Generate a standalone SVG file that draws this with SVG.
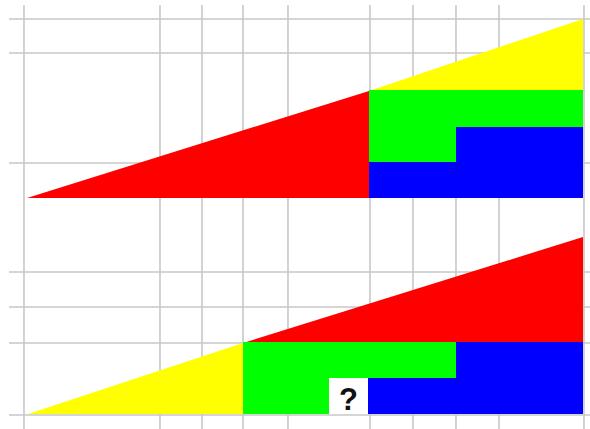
<svg xmlns="http://www.w3.org/2000/svg" width="590" height="429" viewBox="0 0 590 429">
<style>
.g{stroke:#c8c8c8;stroke-width:1.6;fill:none}
.r{fill:#ff0000}.y{fill:#ffff00}.gr{fill:#00ff00}.b{fill:#0000ff}
.q{font-family:"Liberation Sans",Arial,sans-serif;font-weight:bold;font-size:31px;fill:#111}
</style>
<rect width="590" height="429" fill="#ffffff"/>
<g id="grid" class="g">
<path d="M24 5V429M160 5V429M202 5V429M243 5V429M288 5V429M370 5V429M413 5V429M456 5V429M499 5V429M584 5V429"/>
<path d="M9 19H590M9 53H590M9 163H590M9 272H590M9 307H590M9 343H590M9 415H590"/>
</g>
<g id="top">
<polygon id="top-red" class="r" points="27,198 369,91 369,198"/>
<polygon id="top-yellow" class="y" points="369,91 583,19 583,91"/>
<polygon id="top-green" class="gr" points="369,90 583,90 583,127 456,127 456,162 369,162"/>
<polygon id="top-blue" class="b" points="456,127 583,127 583,198 369,198 369,162 456,162"/>
</g>
<g id="bottom">
<polygon id="bottom-yellow" class="y" points="28,414 243,343 243,414"/>
<polygon id="bottom-red" class="r" points="243,343 583,237 583,343"/>
<polygon id="bottom-green" class="gr" points="243,342 456,342 456,378 329,378 329,414 243,414"/>
<polygon id="bottom-blue" class="b" points="456,342 583,342 583,414 368,414 368,378 456,378"/>
<g id="missing">
<rect x="329" y="378" width="39" height="36" fill="#ffffff"/>
<text class="q" x="348.5" y="410" text-anchor="middle">?</text>
</g>
</g>
</svg>
